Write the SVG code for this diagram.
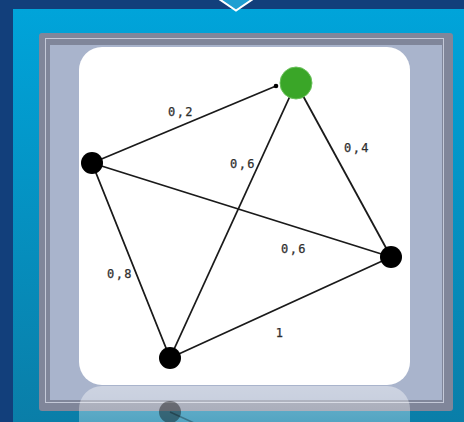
<svg xmlns="http://www.w3.org/2000/svg" width="464" height="422" viewBox="0 0 464 422">
<defs>
<linearGradient id="cyan" x1="0" y1="0" x2="0" y2="1">
<stop offset="0" stop-color="#00a4da"/>
<stop offset="1" stop-color="#0a7ea8"/>
</linearGradient>
<linearGradient id="refl" x1="0" y1="0" x2="0" y2="1">
<stop offset="0" stop-color="#ffffff" stop-opacity="0.42"/>
<stop offset="1" stop-color="#ffffff" stop-opacity="0.22"/>
</linearGradient>
<style>
.edge{stroke:#1a1a1a;stroke-width:1.8;fill:none}
.node{fill:#000}
.lbl{font-family:"DejaVu Sans Mono","Liberation Mono",monospace;font-size:12px;fill:#2e2e2e;stroke:#2e2e2e;stroke-width:0.25;text-anchor:middle;letter-spacing:1.4px}
</style>
</defs>
<rect x="0" y="0" width="464" height="422" fill="#123f7b"/>
<rect x="13" y="9" width="451" height="413" fill="url(#cyan)"/>
<polygon points="218,-1 254,-1 236,10.5" fill="#1f9fd2"/>
<polyline points="219,-1 236,10.5 253,-1" fill="none" stroke="#ffffff" stroke-width="2"/>
<rect x="39" y="33" width="414" height="378" rx="3" fill="#80869a"/>
<rect x="45.5" y="38.5" width="398" height="364" fill="none" stroke="#c4c9d8" stroke-width="1"/>
<rect x="50" y="45" width="392" height="355" fill="#a9b4cc"/>
<rect x="79" y="47" width="331" height="338" rx="23" fill="#ffffff"/>
<g id="reflection">
<rect x="79" y="386" width="331" height="60" rx="23" fill="url(#refl)"/>
<line x1="170" y1="412" x2="260" y2="453" stroke="#000" stroke-opacity="0.3" stroke-width="1.6"/>
<circle cx="170" cy="412" r="11" fill="#000" fill-opacity="0.4"/>
</g>
<g id="connectors">
<line class="edge" x1="92" y1="163" x2="276" y2="86"/>
<circle cx="276" cy="86" r="2.3" fill="#000"/>
<line class="edge" x1="296" y1="83" x2="391" y2="257"/>
<line class="edge" x1="296" y1="83" x2="170" y2="358"/>
<line class="edge" x1="92" y1="163" x2="391" y2="257"/>
<line class="edge" x1="92" y1="163" x2="170" y2="358"/>
<line class="edge" x1="170" y1="358" x2="391" y2="257"/>
<text class="lbl" x="181" y="116">0,2</text>
<text class="lbl" x="243" y="168">0,6</text>
<text class="lbl" x="357" y="152">0,4</text>
<text class="lbl" x="294" y="253">0,6</text>
<text class="lbl" x="120" y="278">0,8</text>
<text class="lbl" x="280" y="337">1</text>
</g>
<g id="node-green"><circle cx="296" cy="83" r="16" fill="#3aa628" stroke="#6cc25c" stroke-width="1"/></g>
<g id="node-left"><circle class="node" cx="92" cy="163" r="11"/></g>
<g id="node-right"><circle class="node" cx="391" cy="257" r="11"/></g>
<g id="node-bottom"><circle class="node" cx="170" cy="358" r="11"/></g>
</svg>
